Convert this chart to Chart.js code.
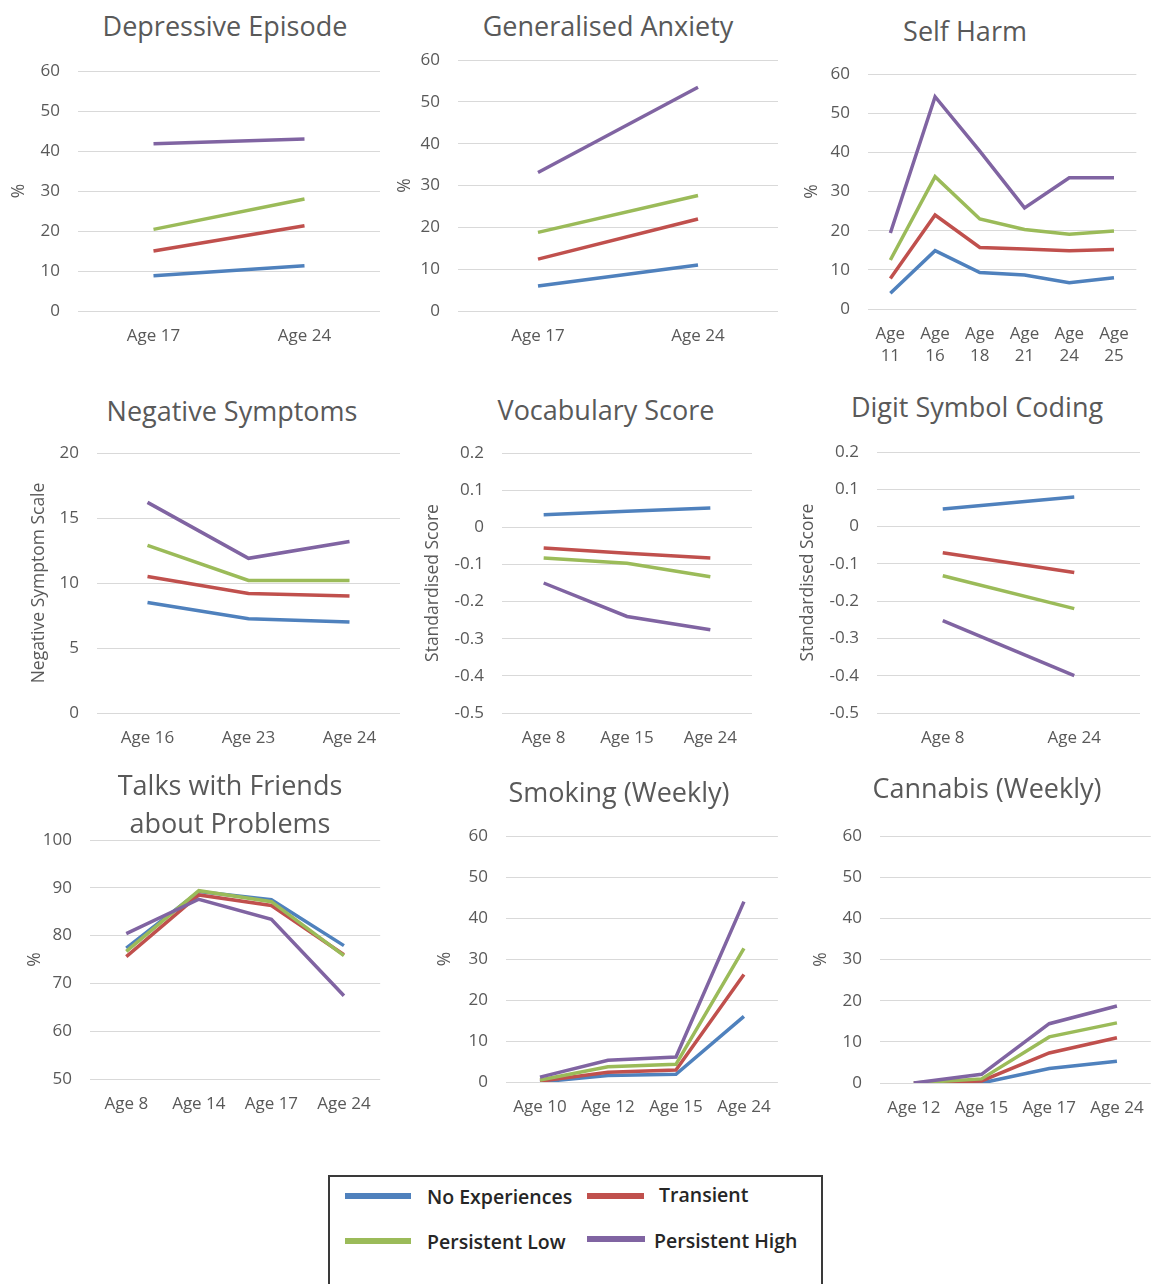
<!DOCTYPE html>
<html>
<head>
<meta charset="utf-8">
<script src="https://cdn.jsdelivr.net/npm/chart.js@4.4.0/dist/chart.umd.min.js"></script>
<style>
  html, body { margin: 0; padding: 0; background: #fff; }
  body { width: 1157px; height: 1284px; position: relative; overflow: hidden; font-family: 'Open Sans', sans-serif; }
  canvas { position: absolute; }
  .title { position: absolute; transform: translate(-50%, -50%); font-size: 27px; line-height: 38px; color: #595959; white-space: nowrap; text-align: center; }
  #legend { position: absolute; left: 328px; top: 1175px; width: 495px; height: 130px; border: 2px solid #3a3a3a; box-sizing: border-box; }
  .key { position: absolute; height: 6px; }
  .keytext { position: absolute; transform: translateY(-50%); font-size: 19.5px; font-weight: 600; color: #262626; white-space: nowrap; }
</style>
</head>
<body>
<div id="legend"></div>
<script>
const seriesNames = ['No Experiences', 'Transient', 'Persistent Low', 'Persistent High'];
const seriesColors = ['#4F81BD', '#C0504D', '#9BBB59', '#8064A2'];

// Depressive Episode (%)
const depLabels = ['Age 17', 'Age 24'];
const depNone = [8.8, 11.3];
const depTransient = [15, 21.3];
const depLow = [20.4, 28];
const depHigh = [41.8, 43];

// Generalised Anxiety (%)
const anxLabels = ['Age 17', 'Age 24'];
const anxNone = [6, 11];
const anxTransient = [12.4, 22];
const anxLow = [18.8, 27.6];
const anxHigh = [33.1, 53.5];

// Self Harm (%)
const shLabels = [['Age', '11'], ['Age', '16'], ['Age', '18'], ['Age', '21'], ['Age', '24'], ['Age', '25']];
const shNone = [4, 14.9, 9.3, 8.7, 6.7, 8];
const shTransient = [7.8, 24, 15.7, 15.3, 14.9, 15.2];
const shLow = [12.5, 33.8, 23, 20.3, 19.1, 19.9];
const shHigh = [19.4, 54.2, 40.3, 25.8, 33.5, 33.5];

// Negative Symptoms (scale)
const negLabels = ['Age 16', 'Age 23', 'Age 24'];
const negNone = [8.5, 7.25, 7];
const negTransient = [10.5, 9.2, 9.0];
const negLow = [12.9, 10.2, 10.2];
const negHigh = [16.2, 11.9, 13.2];

// Vocabulary Score (standardised)
const vocLabels = ['Age 8', 'Age 15', 'Age 24'];
const vocNone = [0.034, 0.043, 0.052];
const vocTransient = [-0.056, -0.07, -0.083];
const vocLow = [-0.083, -0.097, -0.133];
const vocHigh = [-0.15, -0.24, -0.276];

// Digit Symbol Coding (standardised)
const dscLabels = ['Age 8', 'Age 24'];
const dscNone = [0.047, 0.079];
const dscTransient = [-0.07, -0.123];
const dscLow = [-0.132, -0.22];
const dscHigh = [-0.252, -0.40];

// Talks with Friends about Problems (%)
const talkLabels = ['Age 8', 'Age 14', 'Age 17', 'Age 24'];
const talkNone = [77.4, 89.2, 87.5, 77.9];
const talkTransient = [75.6, 88.5, 86.3, 76];
const talkLow = [76.7, 89.4, 87.1, 75.8];
const talkHigh = [80.4, 87.6, 83.4, 67.4];

// Smoking weekly (%)
const smkLabels = ['Age 10', 'Age 12', 'Age 15', 'Age 24'];
const smkNone = [0, 1.6, 1.9, 16];
const smkTransient = [0.2, 2.4, 2.9, 26.2];
const smkLow = [0.5, 3.7, 4.3, 32.6];
const smkHigh = [1.2, 5.3, 6.1, 44];

// Cannabis weekly (%)
const canLabels = ['Age 12', 'Age 15', 'Age 17', 'Age 24'];
const canNone = [0, 0, 3.5, 5.3];
const canTransient = [0, 0.5, 7.3, 11];
const canLow = [0, 1.0, 11.2, 14.6];
const canHigh = [0, 2.1, 14.4, 18.7];

// panel placement: grid box (left/right/top/bottom) and title spot
const panels = [
  { title: 'Depressive Episode', tx: 225, ty: 26, labels: depLabels, series: [depNone, depTransient, depLow, depHigh],
    yTitle: '%', yx: 19, min: 0, max: 60, step: 10, left: 78, right: 380, top: 71, bottom: 311 },
  { title: 'Generalised Anxiety', tx: 608, ty: 26, labels: anxLabels, series: [anxNone, anxTransient, anxLow, anxHigh],
    yTitle: '%', yx: 405, min: 0, max: 60, step: 10, left: 458, right: 778, top: 60, bottom: 311 },
  { title: 'Self Harm', tx: 965, ty: 31, labels: shLabels, series: [shNone, shTransient, shLow, shHigh],
    yTitle: '%', yx: 812, min: 0, max: 60, step: 10, left: 868, right: 1140, top: 74, bottom: 309, xLine: 1.3, xPad: 14 },
  { title: 'Negative Symptoms', tx: 232, ty: 411, labels: negLabels, series: [negNone, negTransient, negLow, negHigh],
    yTitle: 'Negative Symptom Scale', yx: 39, min: 0, max: 20, step: 5, left: 97, right: 400, top: 453, bottom: 713 },
  { title: 'Vocabulary Score', tx: 606, ty: 410, labels: vocLabels, series: [vocNone, vocTransient, vocLow, vocHigh],
    yTitle: 'Standardised Score', yx: 433, min: -0.5, max: 0.2, step: 0.1, left: 502, right: 752, top: 453, bottom: 713 },
  { title: 'Digit Symbol Coding', tx: 977, ty: 407, labels: dscLabels, series: [dscNone, dscTransient, dscLow, dscHigh],
    yTitle: 'Standardised Score', yx: 808, min: -0.5, max: 0.2, step: 0.1, left: 877, right: 1140, top: 452, bottom: 713 },
  { title: 'Talks with Friends<br>about Problems', tx: 230, ty: 804, labels: talkLabels, series: [talkNone, talkTransient, talkLow, talkHigh],
    yTitle: '%', yx: 35, min: 50, max: 100, step: 10, left: 90, right: 383, top: 840, bottom: 1079 },
  { title: 'Smoking (Weekly)', tx: 619, ty: 792, labels: smkLabels, series: [smkNone, smkTransient, smkLow, smkHigh],
    yTitle: '%', yx: 445, min: 0, max: 60, step: 10, left: 506, right: 783, top: 836, bottom: 1082 },
  { title: 'Cannabis (Weekly)', tx: 987, ty: 788, labels: canLabels, series: [canNone, canTransient, canLow, canHigh],
    yTitle: '%', yx: 821, min: 0, max: 60, step: 10, left: 880, right: 1156, top: 836, bottom: 1083 }
];

const textGrey = '#595959';
const fontFamily = "'Open Sans', sans-serif";

function makePanel(p) {
  // top padding must exceed the y axis' own label padding (half label + tick padding)
  const padTop = 32, xAxisH = 64, titleSize = 17.5, tickSize = 17;
  const canvasLeft = Math.round(p.yx - titleSize * 1.2 / 2);
  const width = p.right + 3 - canvasLeft;
  const height = (p.bottom - p.top) + padTop + xAxisH;

  const title = document.createElement('div');
  title.className = 'title';
  title.style.left = p.tx + 'px';
  title.style.top = p.ty + 'px';
  title.innerHTML = p.title;
  document.body.appendChild(title);

  const canvas = document.createElement('canvas');
  canvas.width = width;
  canvas.height = height;
  canvas.style.left = canvasLeft + 'px';
  canvas.style.top = (p.top - padTop) + 'px';
  document.body.appendChild(canvas);

  new Chart(canvas, {
    type: 'line',
    data: {
      labels: p.labels,
      datasets: p.series.map((d, i) => ({
        label: seriesNames[i],
        data: d,
        borderColor: seriesColors[i],
        backgroundColor: seriesColors[i],
        borderWidth: 3.5,
        pointRadius: 0,
        tension: 0,
        order: 4 - i
      }))
    },
    options: {
      responsive: false,
      animation: false,
      devicePixelRatio: 1,
      events: [],
      layout: { padding: { top: padTop, right: 3, bottom: 0, left: 0 } },
      plugins: { legend: { display: false }, tooltip: { enabled: false } },
      scales: {
        x: {
          offset: true,
          grid: { display: false, drawTicks: false },
          border: { display: false },
          ticks: {
            color: textGrey,
            font: { family: fontFamily, size: tickSize, lineHeight: p.xLine || 1.2 },
            padding: p.xPad || 15,
            maxRotation: 0,
            autoSkip: false
          },
          afterFit: s => { s.height = xAxisH; }
        },
        y: {
          min: p.min,
          max: p.max,
          grid: { color: '#d9d9d9', lineWidth: 1, drawTicks: false },
          border: { display: false },
          ticks: {
            stepSize: p.step,
            color: textGrey,
            font: { family: fontFamily, size: tickSize },
            padding: 18,
            callback: v => String(Math.round(v * 10) / 10)
          },
          title: {
            display: true,
            text: p.yTitle,
            color: textGrey,
            font: { family: fontFamily, size: titleSize },
            padding: 0
          },
          afterFit: s => { s.width = p.left - canvasLeft; }
        }
      }
    }
  });
}

panels.forEach(makePanel);

// legend box
const legendSpots = [
  { lx: 345, lw: 66, ly: 1196, tx: 427, ty: 1196 },
  { lx: 587, lw: 57, ly: 1196, tx: 659, ty: 1194 },
  { lx: 345, lw: 66, ly: 1241, tx: 427, ty: 1241 },
  { lx: 587, lw: 58, ly: 1239, tx: 654, ty: 1240 }
];
const legend = document.getElementById('legend');
seriesNames.forEach((name, i) => {
  const s = legendSpots[i];
  const key = document.createElement('div');
  key.className = 'key';
  key.style.left = (s.lx - 330) + 'px';
  key.style.top = (s.ly - 3 - 1177) + 'px';
  key.style.width = s.lw + 'px';
  key.style.background = seriesColors[i];
  legend.appendChild(key);
  const t = document.createElement('div');
  t.className = 'keytext';
  t.style.left = (s.tx - 330) + 'px';
  t.style.top = (s.ty - 1177) + 'px';
  t.textContent = name;
  legend.appendChild(t);
});
</script>
</body>
</html>
